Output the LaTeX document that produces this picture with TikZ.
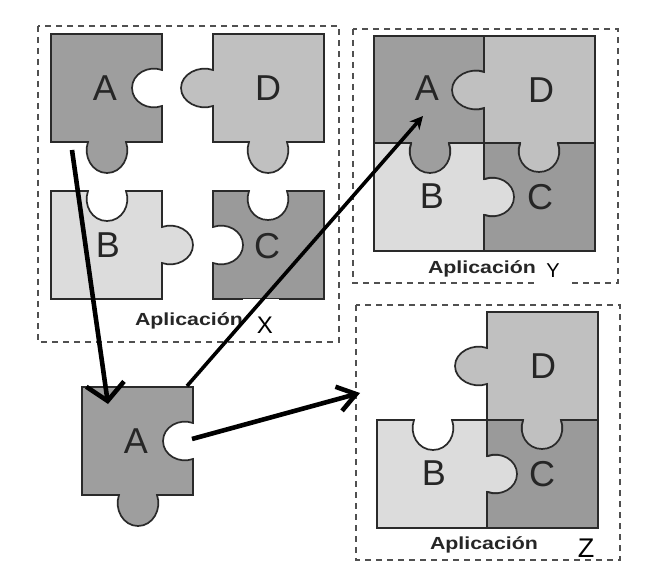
\documentclass[tikz,border=0pt]{standalone}
\usepackage{graphicx}
\usepackage{fontspec}
\setmainfont{Liberation Sans}
\usetikzlibrary{arrows.meta}
\definecolor{colA}{HTML}{9E9E9E}
\definecolor{colB}{HTML}{DCDCDC}
\definecolor{colC}{HTML}{9A9A9A}
\definecolor{colD}{HTML}{C0C0C0}
\definecolor{seam}{HTML}{2A2A2A}
\definecolor{frameline}{HTML}{505050}
\tikzset{
  pieceline/.style={draw=seam,line width=1.7pt,line join=miter},
  frame/.style={draw=frameline,line width=1.9pt,dash pattern=on 6pt off 5pt},
  letter/.style={inner sep=0pt,text=black!85,font=\fontsize{36}{38}\selectfont},
  apptext/.style={inner sep=0pt,text=black!85,font=\fontsize{17.5}{20}\selectfont\bfseries},
  tag/.style={inner sep=0pt,text=black},
  patch/.style={fill=white,draw=none},
  downarrow/.style={line width=4.6pt,-{Straight Barb[length=17pt,width=38pt,line width=4.6pt]}},
  sidearrow/.style={line width=4.6pt,-{Straight Barb[length=18pt,width=25pt,line width=4.6pt]}},
  thinarrow/.style={line width=3.6pt,-{Stealth[length=13pt,width=13pt]}},
  pieceA/.pic={\path[pieceline,fill=colA] (0,0) -- (111,0) -- (111,36)
     .. controls (97,31) and (81,40) .. (81,54) .. controls (81,68) and (97,77) .. (111,72)
     -- (111,108) -- (75,108)
     .. controls (80,122) and (71,139) .. (56,139) .. controls (41,139) and (32,122) .. (37,108)
     -- (0,108) -- cycle;},
  pieceD/.pic={\path[pieceline,fill=colD] (0,0) -- (111,0) -- (111,108) -- (74,108)
     .. controls (79,122) and (70,139) .. (55,139) .. controls (40,139) and (31,122) .. (36,108)
     -- (0,108) -- (0,72)
     .. controls (-14,77) and (-32,68) .. (-32,54) .. controls (-32,40) and (-14,31) .. (0,36)
     -- cycle;},
  pieceB/.pic={\path[pieceline,fill=colB] (0,0) -- (37,0)
     .. controls (32,14) and (41,30) .. (56,30) .. controls (71,30) and (80,14) .. (75,0)
     -- (111,0) -- (111,36)
     .. controls (125,31) and (142,40) .. (142,54) .. controls (142,68) and (125,77) .. (111,72)
     -- (111,108) -- (0,108) -- cycle;},
  pieceC/.pic={\path[pieceline,fill=colC] (0,0) -- (36,0)
     .. controls (31,14) and (40,29) .. (55,29) .. controls (70,29) and (79,14) .. (74,0)
     -- (111,0) -- (111,108) -- (0,108) -- (0,72)
     .. controls (14,77) and (30,68) .. (30,54) .. controls (30,40) and (14,31) .. (0,36)
     -- cycle;},
}
\newcommand{\appword}{\scalebox{1.22}[1]{Aplicación}}
\begin{document}
\begin{tikzpicture}[x=1pt,y=-1pt]
\useasboundingbox (0,0) rectangle (653,585);
\fill[white] (0,0) rectangle (653,585);

% frames
\draw[frame] (38,26) rectangle (339,342);
\draw[frame] (353,29) rectangle (618,283);
\draw[frame] (356,305) rectangle (620,560);

% panel X
\pic at (51,34) {pieceA};
\pic at (213,34) {pieceD};
\pic at (51,191) {pieceB};
\pic at (213,191) {pieceC};
\node[letter] (xa) at (105,88) {A};
\node[letter] (xd) at (268,88) {D};
\node[letter] (xb) at (108,245) {B};
\node[letter] (xc) at (267,246) {C};
\node[apptext] (xapp) at (189,321) {\appword};
\fill[patch] (243,299) rectangle (279,340);
\node[tag,font=\fontsize{24}{26}\selectfont] (xtag) at (265,325) {X};

% panel Y
\pic at (374,36) {pieceA};
\pic at (484,36) {pieceD};
\pic at (374,143) {pieceB};
\pic at (484,143) {pieceC};
\node[letter] (ya) at (427,88) {A};
\node[letter] (yd) at (541,90) {D};
\node[letter] (yb) at (432,196) {B};
\node[letter] (yc) at (540,197) {C};
\node[apptext] (yapp) at (482,269) {\appword};
\fill[patch] (537,258) rectangle (567,285);
\node[tag,font=\fontsize{20}{22}\selectfont] (ytag) at (553,271) {Y};

% panel Z
\pic at (487,312) {pieceD};
\pic at (377,420) {pieceB};
\pic at (487,420) {pieceC};
\node[letter] (zd) at (543,366) {D};
\node[letter] (zb) at (434,473) {B};
\node[letter] (zc) at (542,474) {C};
\node[apptext] (zapp) at (484,545) {\appword};
\node[tag,font=\fontsize{27}{29}\selectfont] (ztag) at (586,548) {Z};

% lone piece
\pic at (82,387) {pieceA};
\node[letter] (la) at (136,441) {A};

% connectors
\coordinate (s1) at (72,150);
\coordinate (e1) at (108,404);
\coordinate (s2) at (187,386);
\coordinate (e2) at (423,116);
\coordinate (s3) at (192,439);
\coordinate (e3) at (360,393);
\draw[downarrow] (s1) -- (e1);
\draw[thinarrow] (s2) -- (e2);
\draw[sidearrow] (s3) -- (e3);
\end{tikzpicture}
\end{document}
